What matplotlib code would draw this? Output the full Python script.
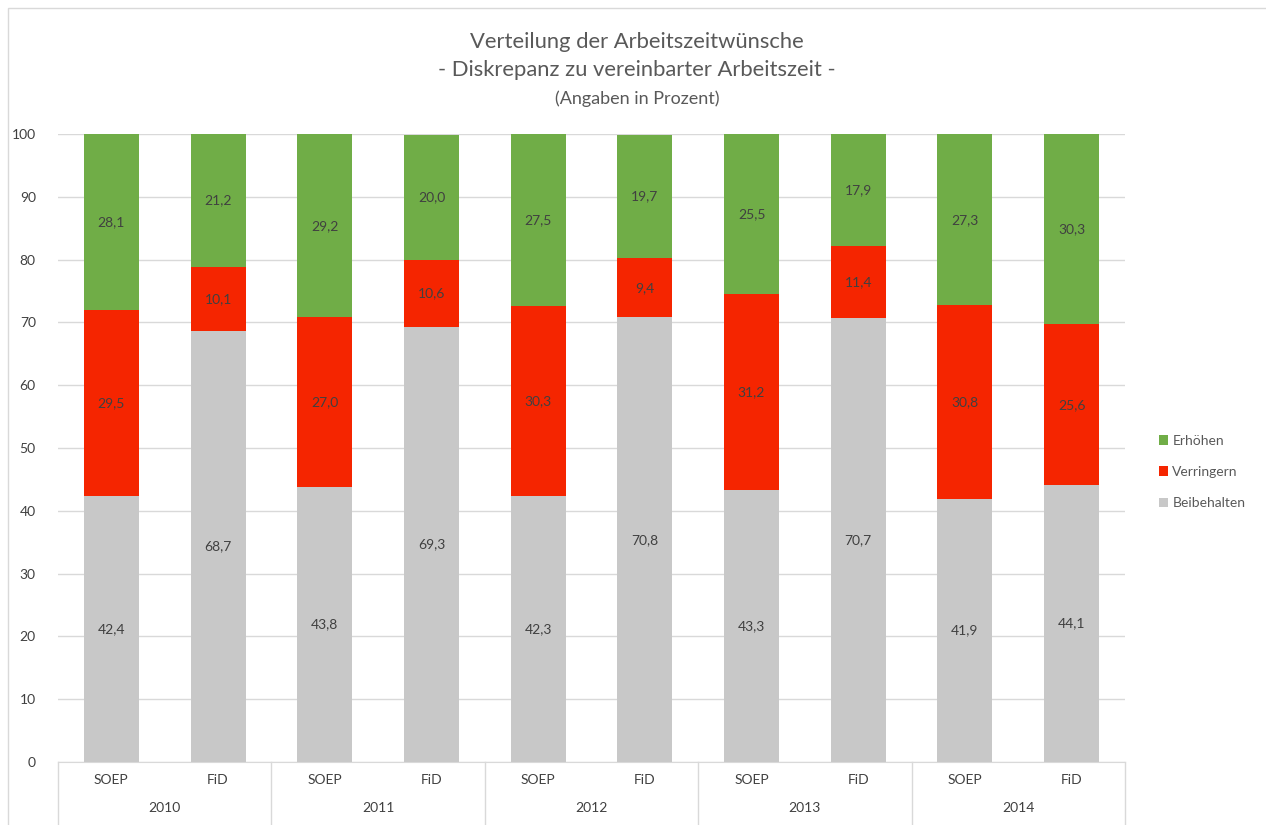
import matplotlib
matplotlib.use("Agg")
import matplotlib.pyplot as plt
import numpy as np
from matplotlib.patches import Rectangle
from matplotlib.lines import Line2D

plt.rcParams['font.family'] = ['Lato', 'DejaVu Sans']

years = ["2010", "2011", "2012", "2013", "2014"]
sources = ["SOEP", "FiD"]
beibehalten = [42.4, 68.7, 43.8, 69.3, 42.3, 70.8, 43.3, 70.7, 41.9, 44.1]
verringern = [29.5, 10.1, 27.0, 10.6, 30.3, 9.4, 31.2, 11.4, 30.8, 25.6]
erhoehen = [28.1, 21.2, 29.2, 20.0, 27.5, 19.7, 25.5, 17.9, 27.3, 30.3]
series_names = ["Beibehalten", "Verringern", "Erhöhen"]
colors = ["#C8C8C8", "#F52500", "#70AD47"]

W, H = 1266, 825
fig = plt.figure(figsize=(W / 100, H / 100), dpi=100)
ax = fig.add_axes([58 / W, (H - 762) / H, (1125 - 58) / W, (762 - 134) / H])

n = len(beibehalten)
x = np.arange(n)
bottom = np.zeros(n)
handles = []
txtcol = "#404040"
for vals, name, col in zip([beibehalten, verringern, erhoehen], series_names, colors):
    bars = ax.bar(x, vals, width=0.515, bottom=bottom, color=col, label=name, zorder=3)
    handles.append(bars)
    for xi, b, v in zip(x, bottom, vals):
        ax.text(xi, b + v / 2, f"{v:.1f}".replace(".", ","), ha="center", va="center",
                fontsize=10, color=txtcol, zorder=4)
    bottom += np.array(vals)

ax.set_xlim(-0.5, n - 0.5)
ax.set_ylim(0, 100)
ax.set_yticks(np.arange(0, 101, 10))
ax.tick_params(axis="y", length=0, labelsize=10, labelcolor="#404040", pad=16)
ax.set_xticks([])
ax.grid(axis="y", color="#D9D9D9", linewidth=1, zorder=0)
for s in ["left", "right", "top"]:
    ax.spines[s].set_visible(False)
ax.spines["bottom"].set_color("#D9D9D9")

# two-level x-axis
trans = ax.get_xaxis_transform()
labels_sub = [sources[i % 2] for i in range(n)]
for xi, lab in zip(x, labels_sub):
    ax.text(xi, -18 / 628, lab, transform=trans, ha="center", va="center",
            fontsize=10, color=txtcol, clip_on=False)
for gi, yr in enumerate(years):
    ax.text(2 * gi + 0.5, -46 / 628, yr, transform=trans, ha="center", va="center",
            fontsize=10, color=txtcol, clip_on=False)
for b in range(len(years) + 1):
    ax.add_line(Line2D([2 * b - 0.5, 2 * b - 0.5], [0, -63 / 628], transform=trans,
                       color="#D9D9D9", linewidth=1, clip_on=False))

# chart border
fig.add_artist(Rectangle((8 / W, -0.01), 1.1, (825 - 8) / H + 0.01, transform=fig.transFigure,
                         fill=False, edgecolor="#D9D9D9", linewidth=1))

fig.text(637 / W, 1 - 42 / H, "Verteilung der Arbeitszeitwünsche", ha="center", va="center",
         fontsize=15.8, color="#595959")
fig.text(637 / W, 1 - 70 / H, "- Diskrepanz zu vereinbarter Arbeitszeit -", ha="center", va="center",
         fontsize=15.8, color="#595959")
fig.text(637 / W, 1 - 99 / H, "(Angaben in Prozent)", ha="center", va="center",
         fontsize=13, color="#595959")

leg = fig.legend(handles[::-1], series_names[::-1], loc="center left",
                 bbox_to_anchor=(1146 / W, 1 - 472 / H), frameon=False, fontsize=10,
                 handlelength=0.7, handleheight=0.7, handletextpad=0.3, labelspacing=1.4)
for t in leg.get_texts():
    t.set_color("#595959")

fig.savefig("out.png", dpi=100)
